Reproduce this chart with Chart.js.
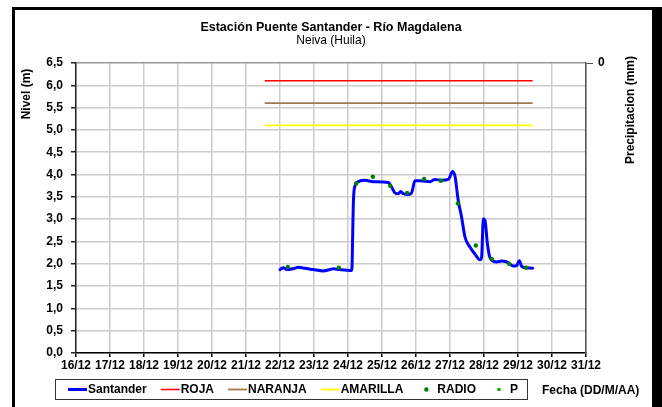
<!DOCTYPE html>
<html>
<head>
<meta charset="utf-8">
<script src="https://cdn.jsdelivr.net/npm/chart.js@4.4.1/dist/chart.umd.min.js"></script>
<style>
  html, body { margin: 0; padding: 0; background: #fff; }
  #wrap { position: relative; width: 662px; height: 407px; overflow: hidden; }
  #marco { position: absolute; left: 12px; top: 7px; width: 650px; height: 420px; box-sizing: border-box;
           border: solid #000; border-width: 3px 10px 0 3px; pointer-events: none; }
</style>
</head>
<body>
<div id="wrap">
  <canvas id="myChart" width="662" height="407"></canvas>
  <div id="marco"></div>
</div>
<script>
// fechas del eje x (dia de diciembre)
const fechas = ['16/12', '17/12', '18/12', '19/12', '20/12', '21/12', '22/12', '23/12',
    '24/12', '25/12', '26/12', '27/12', '28/12', '29/12', '30/12', '31/12']

// nivel Santander (dia, metros)
const dias = [22.00, 22.10, 22.20, 22.39, 22.54, 22.74, 22.98, 23.27, 23.47, 23.57, 23.76, 24.11,
    24.16, 24.21, 24.30, 24.50, 24.74, 25.19, 25.28, 25.38, 25.48, 25.55, 25.63, 25.77, 25.87, 25.97,
    26.12, 26.41, 26.56, 26.76, 26.95, 27.08, 27.15, 27.24, 27.34, 27.44, 27.59, 27.74, 27.88, 27.93,
    27.98, 28.03, 28.10, 28.18, 28.37, 28.52, 28.67, 28.86, 28.96, 29.04, 29.11, 29.26, 29.43]
const nivel = [1.87, 1.91, 1.87, 1.89, 1.92, 1.90, 1.87, 1.84, 1.87, 1.89, 1.87, 1.85,
    3.42, 3.76, 3.84, 3.87, 3.84, 3.82, 3.72, 3.59, 3.57, 3.62, 3.57, 3.55, 3.59, 3.86,
    3.86, 3.84, 3.89, 3.87, 3.89, 4.07, 3.95, 3.43, 3.05, 2.60, 2.37, 2.21, 2.09, 2.15,
    3.01, 2.97, 2.45, 2.13, 2.04, 2.06, 2.04, 1.95, 1.96, 2.07, 1.94, 1.91, 1.90]

// lecturas de radio
const radioDias = [22.23, 23.73, 24.24, 24.73, 25.24, 25.74, 26.24, 26.73, 27.23, 27.76, 28.23, 28.74, 29.24]
const radioNivel = [1.93, 1.91, 3.80, 3.95, 3.75, 3.59, 3.90, 3.86, 3.35, 2.41, 2.11, 2.00, 1.91]

// umbrales de alerta
const umbralDias = [21.55, 29.43]
const roja = [6.1, 6.1]
const naranja = [5.6, 5.6]
const amarilla = [5.1, 5.1]

// precipitacion (sin datos)
const precipDias = []
const precip = []

const fuente = '"Liberation Sans", Arial, sans-serif'

function puntos(xs, ys) {
    return xs.map(function (x, i) { return { x: x, y: ys[i] } })
}

// titulos de ejes, "Fecha" y cuadro de leyenda
const extras = {
    id: 'extras',
    afterDraw(chart) {
        const ctx = chart.ctx
        ctx.save()
        ctx.fillStyle = '#000'
        ctx.font = 'bold 12px ' + fuente
        ctx.textAlign = 'center'
        ctx.textBaseline = 'middle'

        ctx.save()
        ctx.translate(27, 94)
        ctx.rotate(-Math.PI / 2)
        ctx.fillText('Nivel (m)', 0, 0)
        ctx.restore()

        ctx.save()
        ctx.translate(631, 110)
        ctx.rotate(-Math.PI / 2)
        ctx.fillText('Precipitacion (mm)', 0, 0)
        ctx.restore()

        ctx.textAlign = 'left'
        ctx.fillText('Fecha (DD/M/AA)', 542, 391)

        // leyenda
        ctx.strokeStyle = '#333'
        ctx.lineWidth = 1
        ctx.strokeRect(55.5, 379.5, 472, 20)

        let x = 68
        const y = 389.5
        chart.data.datasets.forEach(function (ds) {
            if (ds.showLine === false) {
                ctx.fillStyle = ds.pointBackgroundColor
                if (ds.pointStyle === 'rect') {
                    ctx.fillRect(x + 7.5, y - 1.5, 3, 3)
                } else {
                    ctx.beginPath()
                    ctx.arc(x + 9, y, 2.2, 0, Math.PI * 2)
                    ctx.fill()
                }
            } else {
                ctx.strokeStyle = ds.borderColor
                ctx.lineWidth = ds.borderWidth
                ctx.beginPath()
                ctx.moveTo(x, y)
                ctx.lineTo(x + 19, y)
                ctx.stroke()
            }
            ctx.fillStyle = '#000'
            ctx.fillText(ds.label, x + 20, y + 0.5)
            x += 20 + ctx.measureText(ds.label).width + 14
        })
        ctx.restore()
    }
}

let currChart = document.getElementById('myChart').getContext('2d')

let nivelChart = new Chart(currChart, {
    type: 'line',
    data: {
        datasets: [{
            label: 'Santander',
            data: puntos(dias, nivel),
            borderColor: '#0000ff',
            borderWidth: 3,
            pointRadius: 0,
            cubicInterpolationMode: 'monotone',
            borderJoinStyle: 'round',
            borderCapStyle: 'round',
            order: 1,
        }, {
            label: 'ROJA',
            data: puntos(umbralDias, roja),
            borderColor: '#ff0000',
            borderWidth: 1.5,
            pointRadius: 0,
            order: 3,
        }, {
            label: 'NARANJA',
            data: puntos(umbralDias, naranja),
            borderColor: '#a0784e',
            borderWidth: 1.8,
            pointRadius: 0,
            order: 3,
        }, {
            label: 'AMARILLA',
            data: puntos(umbralDias, amarilla),
            borderColor: '#ffff00',
            borderWidth: 1.8,
            pointRadius: 0,
            order: 3,
        }, {
            label: 'RADIO',
            data: puntos(radioDias, radioNivel),
            showLine: false,
            pointRadius: 2.2,
            pointBorderWidth: 0,
            pointBackgroundColor: '#008000',
            borderColor: '#008000',
            order: 0,
        }, {
            label: 'P',
            data: puntos(precipDias, precip),
            yAxisID: 'y2',
            showLine: false,
            pointStyle: 'rect',
            pointRadius: 1.5,
            pointBorderWidth: 0,
            pointBackgroundColor: '#00a000',
            borderColor: '#00a000',
        }]
    },
    options: {
        responsive: false,
        animation: false,
        layout: { padding: { left: 0, right: 0, top: 0, bottom: 34 } },
        plugins: {
            legend: { display: false },
            tooltip: { enabled: false },
            title: {
                display: true,
                text: 'Estación Puente Santander - Río Magdalena',
                color: '#000',
                font: { family: fuente, size: 12.5, weight: 'bold', lineHeight: 1.2 },
                padding: { top: 20, bottom: 0 },
            },
            subtitle: {
                display: true,
                text: 'Neiva (Huila)',
                color: '#000',
                font: { family: fuente, size: 12, lineHeight: 1.0 },
                padding: { top: 0, bottom: 16 },
            },
        },
        scales: {
            x: {
                type: 'linear',
                min: 16,
                max: 31,
                ticks: {
                    stepSize: 1,
                    autoSkip: false,
                    maxRotation: 0,
                    color: '#000',
                    padding: 1,
                    font: { family: fuente, size: 12, weight: 'bold' },
                    callback: function (v) { return fechas[v - 16] },
                },
                grid: { color: '#cccccc', lineWidth: 1.5, tickLength: 4, tickColor: '#000' },
                border: { color: '#000', width: 1.5 },
                afterFit: function (s) { s.height = 20 },
            },
            y: {
                min: 0,
                max: 6.5,
                ticks: {
                    stepSize: 0.5,
                    color: '#000',
                    padding: 8,
                    font: { family: fuente, size: 12, weight: 'bold' },
                    callback: function (v) { return v.toFixed(1).replace('.', ',') },
                },
                grid: {
                    lineWidth: 1.5,
                    tickLength: 5,
                    tickColor: '#222',
                    color: function (c) { return c.tick && c.tick.value === 6.5 ? '#999' : '#cccccc' },
                },
                border: { color: '#222', width: 1.5 },
                afterFit: function (s) { s.width = 76 },
            },
            y2: {
                position: 'right',
                reverse: true,
                min: 0,
                max: 10,
                afterBuildTicks: function (s) { s.ticks = [{ value: 0 }] },
                ticks: {
                    color: '#000',
                    padding: 5,
                    font: { family: fuente, size: 12, weight: 'bold' },
                },
                grid: { drawOnChartArea: false, tickLength: 7, tickColor: '#555' },
                border: { color: '#555', width: 1.5 },
                afterFit: function (s) { s.width = 76 },
            },
        },
    },
    plugins: [extras],
})
</script>
</body>
</html>
